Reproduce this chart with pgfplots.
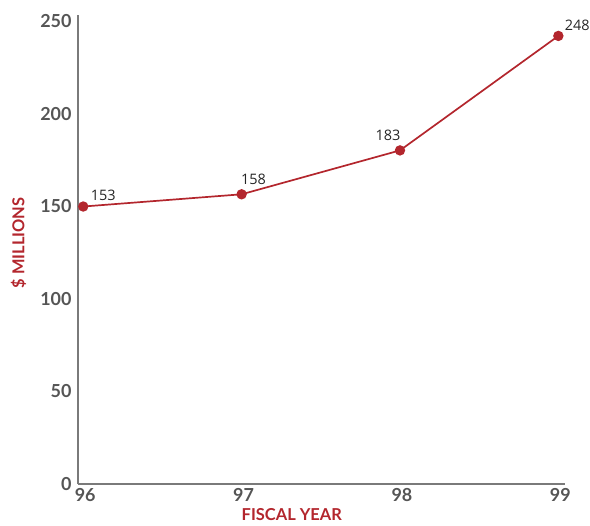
\documentclass[border=0pt]{standalone}
\usepackage{pgfplots}
\pgfplotsset{compat=1.18}
\usepackage{pgfplotstable}
\usepackage{fontspec}
\setmainfont{Lato}
\newfontfamily\labfont{Open Sans}
\definecolor{chartred}{HTML}{B3262D}
\definecolor{axisgray}{HTML}{7A7A7A}
\definecolor{tickgray}{HTML}{555555}
\pgfplotstableread{
x y lab dx dy
96 149.3 153 20 11
97 155.9 158 12 15
98 179.6 183 -12 15
99 241.4 248 19 11
}\datatable
\begin{document}
\begin{tikzpicture}
\begin{axis}[
  scale only axis,
  width=487bp, height=469bp,
  xmin=95.967, xmax=99.042,
  ymin=-0.5, ymax=252.7,
  axis x line*=bottom, axis y line*=left,
  axis line style={draw=axisgray, line width=1.1bp, -},
  major tick length=0pt,
  xtick={96,97,98,99},
  ytick={0,50,100,150,200,250},
  /pgf/number format/assume math mode=true,
  tick label style={font=\fontsize{18}{20}\selectfont\bfseries, text=tickgray},
  xticklabel style={xshift=2bp, yshift=-1bp},
  yticklabel style={xshift=-3bp, yshift=-1bp},
  ylabel={\$ MILLIONS},
  xlabel={FISCAL YEAR},
  label style={font=\fontsize{16.5}{18}\selectfont\bfseries, text=chartred},
  ylabel style={at={(axis description cs:-0.122,0.514)}, anchor=center},
  xlabel style={at={(axis description cs:0.439,-0.066)}, anchor=center},
  clip=false,
]
\addplot[color=chartred, line width=1.7bp, mark=*, mark size=4.3bp,
  mark options={fill=chartred, draw=chartred},
  point meta=explicit symbolic,
  visualization depends on={\thisrow{dx} \as \dx},
  visualization depends on={\thisrow{dy} \as \dy},
  nodes near coords,
  nodes near coords style={anchor=center, xshift=\dx bp, yshift=\dy bp,
    font=\labfont\fontsize{14.5}{16}\selectfont, text=black!85}
] table[x=x, y=y, meta=lab] {\datatable};
\end{axis}
\pgfresetboundingbox
\useasboundingbox (-78bp,-42bp) rectangle (512bp,484bp);
\end{tikzpicture}
\end{document}
